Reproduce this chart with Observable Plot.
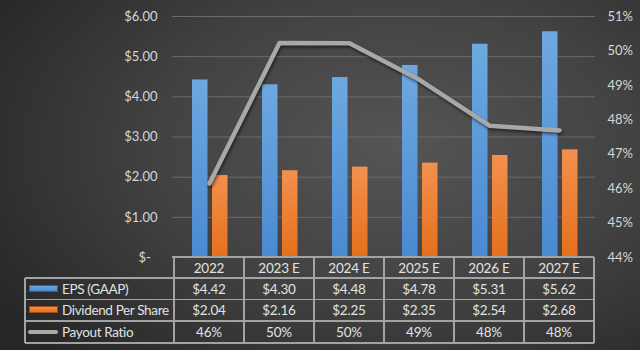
<!DOCTYPE html>
<html><head><meta charset="utf-8">
<script src="https://cdn.jsdelivr.net/npm/d3@7"></script>
<script src="https://cdn.jsdelivr.net/npm/@observablehq/plot@0.6"></script>
<style>
html,body{margin:0;padding:0;background:#2a2a2a;}
#chart{position:relative;width:640px;height:350px;overflow:hidden;
  background:radial-gradient(ellipse 75% 85% at 62% 42%, #555555 0%, #424242 50%, #262626 100%);
  font-family:Lato,"Open Sans",sans-serif;}
#chart svg{position:absolute;left:0;top:0;overflow:visible;}
.cell{position:absolute;box-sizing:border-box;color:#e2e2e2;font-size:13.5px;letter-spacing:-0.2px;display:flex;align-items:center;justify-content:center;white-space:nowrap;}
.hline,.vline{position:absolute;background:#a3a3a3;}
.lab{justify-content:flex-start;letter-spacing:-0.35px;}
.sw{position:absolute;}
</style>
</head><body>
<div id="chart"></div>
<script>
const years = ["2022","2023 E","2024 E","2025 E","2026 E","2027 E"];
const eps = [4.42,4.30,4.48,4.78,5.31,5.62];
const dps = [2.04,2.16,2.25,2.35,2.54,2.68];
const payout = [46.15,50.23,50.22,49.16,47.83,47.69];
const epsLabels = ["$4.42","$4.30","$4.48","$4.78","$5.31","$5.62"];
const dpsLabels = ["$2.04","$2.16","$2.25","$2.35","$2.54","$2.68"];
const payoutLabels = ["46%","50%","50%","49%","48%","48%"];
const leftTicks = [0,1,2,3,4,5,6];
const rightTicks = [44,45,46,47,48,49,50,51];
const seriesNames = ["EPS (GAAP)","Dividend Per Share","Payout Ratio"];

const data = years.map((y,i)=>({year:y, eps:eps[i], dps:dps[i], payout:payout[i]}));
const W=640,H=350,ML=172,MR=45,MT=16,MB=93;
const root = document.getElementById("chart");

const p1 = Plot.plot({
  width:W,height:H,marginLeft:ML,marginRight:MR,marginTop:MT,marginBottom:MB,
  style:{background:"transparent",fontFamily:"Lato, 'Open Sans', sans-serif"},
  x:{type:"band",domain:years,padding:0,axis:null},
  y:{domain:[0,6],label:null},
  marks:[
    Plot.gridY(leftTicks.filter(d=>d>0),{stroke:"#6b6b6b",strokeOpacity:1,strokeWidth:1}),
    Plot.barY(data,{x:"year",y:"eps",fill:"url(#gBlue)",insetLeft:18,insetRight:36.5}),
    Plot.barY(data,{x:"year",y:"dps",fill:"url(#gOrange)",insetLeft:38,insetRight:16.5}),
    Plot.axisY(leftTicks,{label:null,tickSize:0,tickPadding:15,fontSize:13,fill:"#d6d6d6",
      tickFormat:d=>d===0?"$-  ":"$"+d.toFixed(2)})
  ]
});
const defs = d3.select(p1).insert("defs",":first-child");
const g1 = defs.append("linearGradient").attr("id","gBlue").attr("x1",0).attr("x2",0).attr("y1",0).attr("y2",1);
g1.append("stop").attr("offset","0%").attr("stop-color","#6ea8e0");
g1.append("stop").attr("offset","100%").attr("stop-color","#4a8ad2");
const g2 = defs.append("linearGradient").attr("id","gOrange").attr("x1",0).attr("x2",0).attr("y1",0).attr("y2",1);
g2.append("stop").attr("offset","0%").attr("stop-color","#f3904f");
g2.append("stop").attr("offset","100%").attr("stop-color","#e4701b");
root.appendChild(p1);

const p2 = Plot.plot({
  width:W,height:H,marginLeft:ML,marginRight:MR,marginTop:MT,marginBottom:MB,
  style:{background:"transparent",fontFamily:"Lato, 'Open Sans', sans-serif"},
  x:{type:"point",domain:years,padding:0.5,axis:null},
  y:{domain:[44,51],axis:null,label:null},
  marks:[
    Plot.lineY(data,{x:"year",y:"payout",stroke:"#a8a8a8",strokeWidth:4.5,strokeLinejoin:"round"}),
    Plot.axisY(rightTicks,{anchor:"right",label:null,tickSize:0,tickPadding:12,fontSize:13,fill:"#d6d6d6",
      tickFormat:d=>d+"%"})
  ]
});
d3.select(p2).selectAll("g[aria-label=line] path").style("filter","drop-shadow(1px 2px 1.5px rgba(0,0,0,0.55))");
root.appendChild(p2);

// table
const xs = p1.scale("x");
const bw = xs.bandwidth;
const colX = years.map(y=>xs.apply(y));
const rowsY = [257,278,299.5,321,343];
const tableLeft = 25, gridLeft = ML, gridRight = colX[5]+bw;
function el(cls, css, txt){const d=document.createElement("div");d.className=cls;Object.assign(d.style,css);if(txt!=null)d.textContent=txt;root.appendChild(d);return d;}
years.forEach((y,i)=>el("cell",{left:colX[i]+"px",top:rowsY[0]+"px",width:bw+"px",height:(rowsY[1]-rowsY[0])+"px"},y));
const rowTexts=[epsLabels,dpsLabels,payoutLabels];
rowTexts.forEach((arr,r)=>{
  arr.forEach((t,i)=>el("cell",{left:colX[i]+"px",top:rowsY[r+1]+"px",width:bw+"px",height:(rowsY[r+2]-rowsY[r+1])+"px"},t));
  el("cell lab",{left:"62px",top:rowsY[r+1]+"px",width:"110px",height:(rowsY[r+2]-rowsY[r+1])+"px"},seriesNames[r]);
});
el("sw",{left:"29px",top:"284.5px",width:"29px",height:"7px",background:"linear-gradient(#6ea8e0,#4a8ad2)",border:"1px solid #2f5f95",boxSizing:"border-box"});
el("sw",{left:"29px",top:"306px",width:"29px",height:"7px",background:"linear-gradient(#f3904f,#e4701b)",border:"1px solid #a14d10",boxSizing:"border-box"});
el("sw",{left:"28px",top:"329.5px",width:"30px",height:"4px",background:"#aaaaaa",borderRadius:"2px"});
const lw=1.5;
el("hline",{left:gridLeft+"px",top:(rowsY[0]-lw/2)+"px",width:(gridRight-gridLeft)+"px",height:lw+"px"});
for(let r=1;r<rowsY.length;r++) el("hline",{left:tableLeft+"px",top:(rowsY[r]-lw/2)+"px",width:(gridRight-tableLeft)+"px",height:lw+"px"});
el("vline",{left:(tableLeft-lw/2)+"px",top:rowsY[1]+"px",width:lw+"px",height:(rowsY[4]-rowsY[1])+"px"});
colX.concat([gridRight]).forEach(x=>el("vline",{left:(x-lw/2)+"px",top:rowsY[0]+"px",width:lw+"px",height:(rowsY[4]-rowsY[0])+"px"}));
</script>
</body></html>
